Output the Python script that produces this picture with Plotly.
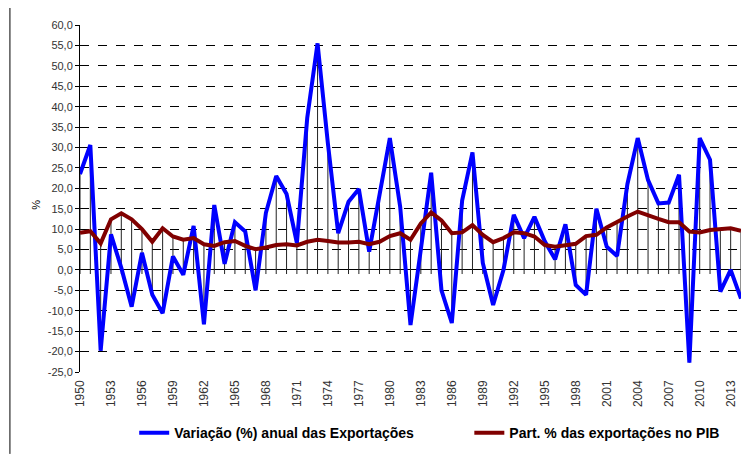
import plotly.graph_objects as go

# dados
anos = list(range(1950, 2015))

variacao_export = [
    23.5, 30.6, -19.8, 8.7, 0.5, -9.0, 4.2, -6.1, -10.6, 3.3,
    -1.2, 10.8, -13.3, 15.9, 1.5, 11.7, 9.4, -5.0, 14.0, 23.0,
    18.6, 6.6, 37.2, 55.5, 31.0, 9.0, 16.7, 19.8, 4.5, 19.0,
    32.3, 15.5, -13.5, 5.0, 23.8, -5.0, -13.0, 17.0, 28.8, 1.7,
    -8.6, 0.0, 13.5, 7.8, 13.0, 7.0, 2.6, 11.2, -3.7, -6.1,
    15.0, 5.7, 3.4, 21.0, 32.3, 22.0, 16.3, 16.5, 23.3, -22.7,
    32.3, 27.0, -5.3, 0.0, -7.0,
]

part_pib = [
    9.1, 9.5, 6.5, 12.4, 13.9, 12.4, 10.0, 6.9, 10.2, 8.2,
    7.4, 7.8, 6.3, 5.9, 6.8, 7.1, 5.9, 5.1, 5.5, 6.1,
    6.3, 6.0, 6.9, 7.4, 7.1, 6.7, 6.7, 6.9, 6.3, 6.9,
    8.3, 9.0, 7.4, 11.4, 14.1, 12.1, 9.0, 9.2, 11.0, 8.6,
    6.8, 7.8, 9.2, 9.0, 8.2, 6.1, 5.7, 6.1, 6.4, 8.3,
    8.6, 10.4, 11.8, 13.1, 14.3, 13.3, 12.5, 11.7, 11.7, 9.4,
    9.2, 9.8, 10.0, 10.2, 9.6,
]

y_ticks = list(range(-25, 61, 5))
y_labels = [f"{v:.1f}".replace(".", ",") for v in y_ticks]
x_ticks = list(range(1950, 2015, 3))

FONT = "Liberation Sans, Arial"

fig = go.Figure()

# linhas de queda (drop lines) de cada ano até o eixo
dx, dy = [], []
for ano, a, b in zip(anos, variacao_export, part_pib):
    dx += [ano, ano, None]
    dy += [max(a, b, 0), min(a, b, -1.0), None]
fig.add_trace(go.Scatter(
    x=dx, y=dy, mode='lines',
    line=dict(color='#222222', width=1),
    showlegend=False, hoverinfo='skip'
))

fig.add_trace(go.Scatter(
    x=anos, y=variacao_export, mode='lines',
    name='Variação (%) anual das Exportações',
    line=dict(color='#0000ff', width=4),
    legend='legend'
))

fig.add_trace(go.Scatter(
    x=anos, y=part_pib, mode='lines',
    name='Part. % das exportações no PIB',
    line=dict(color='#800000', width=4),
    legend='legend2'
))

leg_font = dict(family=FONT, size=14, color='#000000', weight='bold')

fig.update_layout(
    width=747, height=446,
    margin=dict(l=72, r=14, t=17, b=82),
    paper_bgcolor='white',
    plot_bgcolor='white',
    font=dict(family=FONT, size=11, color='#000000'),
    showlegend=True,
    legend=dict(x=0.082, xanchor='left', y=0.047, yref='container',
                yanchor='middle', font=leg_font, bgcolor='rgba(0,0,0,0)'),
    legend2=dict(x=0.589, xanchor='left', y=0.047, yref='container',
                 yanchor='middle', font=leg_font, bgcolor='rgba(0,0,0,0)'),
    xaxis=dict(
        range=[1950, 2014],
        tickmode='array', tickvals=x_ticks,
        tickangle=-90,
        showgrid=False, zeroline=False, showline=False,
        ticks='', automargin=False, ticklabelstandoff=5,
        tickfont=dict(size=12, color='#333333'),
    ),
    yaxis=dict(
        range=[-25, 60],
        tickmode='array', tickvals=y_ticks, ticktext=y_labels,
        showgrid=True, gridcolor='#000000', griddash='dash', gridwidth=1,
        zeroline=True, zerolinecolor='#000000', zerolinewidth=1,
        showline=True, linecolor='#000000', linewidth=1,
        ticks='outside', ticklen=4, tickcolor='#000000',
        tickfont=dict(size=11, color='#333333'), automargin=False,
    ),
)

fig.add_annotation(text='%', xref='paper', yref='paper',
                   x=-0.079, y=0.481, textangle=-90, showarrow=False,
                   font=dict(size=11, color='#000000'))

# linha da margem da página à esquerda
fig.add_shape(type='line', xref='paper', yref='paper',
              x0=-0.106, x1=-0.106, y0=-0.236, y1=1.072,
              line=dict(color='#000000', width=1))

fig.write_html("out.html")
